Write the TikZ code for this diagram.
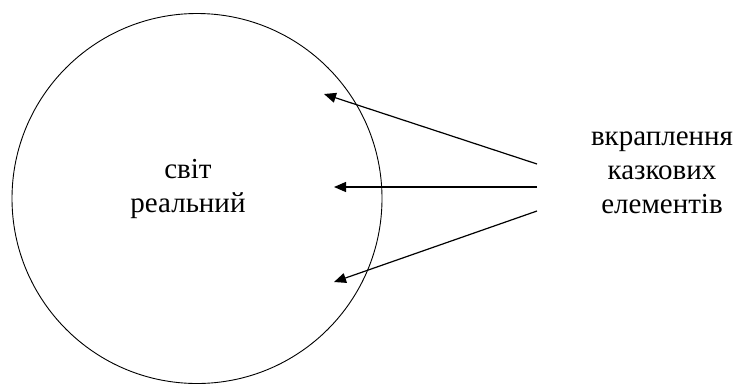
\documentclass[tikz,border=0pt]{standalone}
\usepackage{fontspec}
\setmainfont{Liberation Serif}
\usetikzlibrary{arrows.meta}

\begin{document}
\begin{tikzpicture}[x=1pt, y=-1pt,
  pointer/.style={-{Triangle[length=12pt,width=10pt]}, line width=1.2pt},
  caption/.style={align=center, inner sep=0pt, font=\fontsize{29}{34}\selectfont}]

\useasboundingbox (0,0) rectangle (739,384);

% Real world
\node[circle, draw, line width=0.9pt, minimum size=370pt, inner sep=0pt] (world) at (197,198.5) {};
\node[caption] (real) at (188,189) {світ\\реальний};

% Fairy-tale elements
\node[caption] (fairy) at (662,173) {вкраплення\\казкових\\елементів};

% Arrow ends
\coordinate (srcA) at (537,164);
\coordinate (srcB) at (537,187);
\coordinate (srcC) at (537,211);
\coordinate (tipA) at (324,94);
\coordinate (tipB) at (334,187);
\coordinate (tipC) at (334,282);

\draw[pointer] (srcA) -- (tipA);
\draw[pointer] (srcB) -- (tipB);
\draw[pointer] (srcC) -- (tipC);

\end{tikzpicture}
\end{document}
